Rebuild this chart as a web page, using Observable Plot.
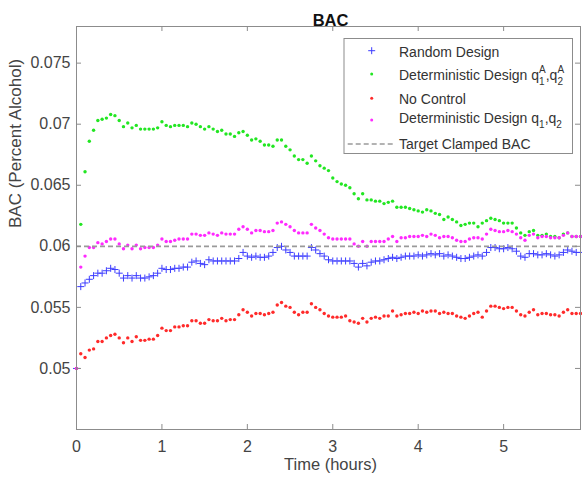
<!DOCTYPE html>
<html>
<head>
<meta charset="utf-8">
<script src="https://cdn.jsdelivr.net/npm/d3@7"></script>
<script src="https://cdn.jsdelivr.net/npm/@observablehq/plot@0.6"></script>
<style>
  body { margin: 0; background: white; }
  svg text { font-family: "Liberation Sans", Arial, sans-serif; }
</style>
</head>
<body>
<script>
// ---------------- data ----------------
const titleText = "BAC";
const xLabel = "Time (hours)";
const yLabel = "BAC (Percent Alcohol)";
const xTicks = [0, 1, 2, 3, 4, 5];
const xTickLabels = ["0", "1", "2", "3", "4", "5"];
const yTicks = [0.05, 0.055, 0.06, 0.065, 0.07, 0.075];
const yTickLabels = ["0.05", "0.055", "0.06", "0.065", "0.07", "0.075"];
const seriesNames = ["Random Design", "Deterministic Design q1A,q2A", "No Control", "Deterministic Design q1,q2", "Target Clamped BAC"];
const targetBAC = 0.06;

const time = [0,0.05,0.1,0.15,0.2,0.25,0.3,0.35,0.4,0.45,0.5,0.55,0.6,0.65,0.7,0.75,0.8,0.85,0.9,0.95,
1,1.05,1.1,1.15,1.2,1.25,1.3,1.35,1.4,1.45,1.5,1.55,1.6,1.65,1.7,1.75,1.8,1.85,1.9,1.95,
2,2.05,2.1,2.15,2.2,2.25,2.3,2.35,2.4,2.45,2.5,2.55,2.6,2.65,2.7,2.75,2.8,2.85,2.9,2.95,
3,3.05,3.1,3.15,3.2,3.25,3.3,3.35,3.4,3.45,3.5,3.55,3.6,3.65,3.7,3.75,3.8,3.85,3.9,3.95,
4,4.05,4.1,4.15,4.2,4.25,4.3,4.35,4.4,4.45,4.5,4.55,4.6,4.65,4.7,4.75,4.8,4.85,4.9,4.95,
5,5.05,5.1,5.15,5.2,5.25,5.3,5.35,5.4,5.45,5.5,5.55,5.6,5.65,5.7,5.75,5.8,5.85,5.9];

const randomDesign = [0.05,0.0567,0.0570,0.0573,0.0576,0.0578,0.0578,0.0580,0.0582,0.0581,
0.0578,0.0574,0.0576,0.0574,0.0576,0.0574,0.0574,0.0575,0.0576,0.0578,
0.0582,0.0581,0.0581,0.0582,0.0582,0.0583,0.0583,0.0587,0.0588,0.0586,
0.0585,0.0589,0.0588,0.0588,0.0588,0.0588,0.0588,0.0588,0.0590,0.0595,
0.0592,0.0591,0.0592,0.0591,0.0591,0.0592,0.0595,0.0599,0.0600,0.0597,
0.0595,0.0592,0.0592,0.0592,0.0592,0.0599,0.0597,0.0594,0.0592,0.0589,
0.0588,0.0588,0.0588,0.0588,0.0588,0.0586,0.0583,0.0586,0.0584,0.0587,
0.0588,0.0588,0.0589,0.0590,0.0591,0.0590,0.0591,0.0592,0.0592,0.0592,
0.0593,0.0592,0.0593,0.0594,0.0593,0.0594,0.0592,0.0593,0.0592,0.0591,
0.0590,0.0590,0.0591,0.0592,0.0593,0.0592,0.0595,0.0599,0.0599,0.0598,
0.0598,0.0599,0.0598,0.0596,0.0592,0.0591,0.0594,0.0594,0.0593,0.0593,
0.0594,0.0593,0.0592,0.0593,0.0595,0.0597,0.0596,0.0595,0.0595];

const deterministicA = [0.05,0.0618,0.0661,0.0686,0.0695,0.0703,0.0704,0.0705,0.0708,0.0707,
0.0703,0.0698,0.0701,0.0697,0.0699,0.0696,0.0696,0.0696,0.0696,0.0697,
0.0702,0.0699,0.0698,0.0699,0.0699,0.0699,0.0698,0.0701,0.0700,0.0698,
0.0696,0.0698,0.0696,0.0694,0.0695,0.0692,0.0692,0.0690,0.0693,0.0694,
0.0691,0.0687,0.0688,0.0686,0.0683,0.0683,0.0682,0.0687,0.0687,0.0682,
0.0679,0.0674,0.0671,0.0671,0.0668,0.0674,0.0670,0.0666,0.0664,0.0662,
0.0656,0.0653,0.0651,0.0650,0.0648,0.0643,0.0639,0.0643,0.0638,0.0638,
0.0637,0.0637,0.0635,0.0636,0.0637,0.0632,0.0632,0.0632,0.0631,0.0630,
0.0629,0.0628,0.0630,0.0629,0.0627,0.0626,0.0622,0.0624,0.0622,0.0620,
0.0617,0.0618,0.0619,0.0619,0.0616,0.0619,0.0621,0.0623,0.0622,0.0621,
0.0619,0.0619,0.0619,0.0615,0.0611,0.0609,0.0612,0.0613,0.0609,0.0609,
0.0610,0.0608,0.0608,0.0607,0.0610,0.0611,0.0608,0.0608,0.0608];

const noControl = [0.05,0.0512,0.0509,0.0515,0.0516,0.0522,0.0522,0.0525,0.0527,0.0528,
0.0525,0.0521,0.0525,0.0522,0.0526,0.0523,0.0523,0.0524,0.0524,0.0527,
0.0533,0.0531,0.0531,0.0534,0.0534,0.0535,0.0535,0.0539,0.0539,0.0537,
0.0537,0.0540,0.0539,0.0539,0.0541,0.0539,0.0540,0.0540,0.0544,0.0548,
0.0546,0.0543,0.0545,0.0545,0.0544,0.0545,0.0546,0.0552,0.0554,0.0551,
0.0550,0.0546,0.0544,0.0546,0.0546,0.0553,0.0550,0.0548,0.0545,0.0543,
0.0542,0.0542,0.0542,0.0543,0.0539,0.0538,0.0537,0.0541,0.0538,0.0541,
0.0542,0.0541,0.0543,0.0543,0.0547,0.0543,0.0544,0.0545,0.0545,0.0546,
0.0545,0.0547,0.0546,0.0547,0.0547,0.0545,0.0546,0.0545,0.0545,0.0543,
0.0542,0.0541,0.0543,0.0545,0.0546,0.0542,0.0547,0.0551,0.0551,0.0550,
0.0549,0.0550,0.0550,0.0547,0.0544,0.0543,0.0546,0.0548,0.0544,0.0545,
0.0545,0.0544,0.0544,0.0543,0.0546,0.0548,0.0545,0.0545,0.0545];

const deterministic = [0.05,0.0583,0.0592,0.0599,0.0599,0.0603,0.0602,0.0604,0.0606,0.0606,
0.0602,0.0598,0.0601,0.0598,0.0601,0.0598,0.0599,0.0599,0.0599,0.0601,
0.0606,0.0604,0.0604,0.0605,0.0606,0.0606,0.0606,0.0610,0.0610,0.0609,
0.0609,0.0611,0.0610,0.0609,0.0611,0.0610,0.0610,0.0610,0.0614,0.0616,
0.0614,0.0611,0.0613,0.0613,0.0612,0.0612,0.0613,0.0619,0.0620,0.0618,
0.0616,0.0613,0.0611,0.0611,0.0611,0.0618,0.0615,0.0613,0.0610,0.0607,
0.0606,0.0606,0.0606,0.0606,0.0606,0.0602,0.0600,0.0604,0.0600,0.0604,
0.0604,0.0604,0.0604,0.0606,0.0608,0.0604,0.0607,0.0607,0.0608,0.0608,
0.0608,0.0609,0.0608,0.0610,0.0609,0.0607,0.0608,0.0608,0.0607,0.0605,
0.0604,0.0604,0.0606,0.0607,0.0607,0.0606,0.0610,0.0614,0.0613,0.0612,
0.0612,0.0613,0.0612,0.0610,0.0607,0.0605,0.0609,0.0610,0.0607,0.0608,
0.0608,0.0607,0.0607,0.0607,0.0609,0.0611,0.0608,0.0608,0.0608];

const colors = { blue: "#3d3dff", green: "#22e622", red: "#ff2a2a", magenta: "#ff2aff", target: "#9a9a9a", axis: "#8c8c8c", text: "#444444" };

// ---------------- build ----------------
const toRows = arr => time.map((t, i) => ({ t, v: arr[i] }));
const W = 582, H = 479;
const mL = 76, mR = 2, mT = 26, mB = 50;
const pw = W - mL - mR, ph = H - mT - mB;

const chart = Plot.plot({
  width: W, height: H,
  marginLeft: mL, marginRight: mR, marginTop: mT, marginBottom: mB,
  style: { fontFamily: "Liberation Sans, Arial, sans-serif", background: "white", overflow: "visible" },
  x: { domain: [0, 5.9] },
  y: { domain: [0.045, 0.078] },
  marks: [
    Plot.dot(toRows(randomDesign), { x: "t", y: "v", symbol: "plus", r: 2.4, stroke: colors.blue, strokeWidth: 1 }),
    Plot.dot(toRows(deterministicA), { x: "t", y: "v", r: 1.7, fill: colors.green }),
    Plot.dot(toRows(noControl), { x: "t", y: "v", r: 1.7, fill: colors.red }),
    Plot.dot(toRows(deterministic), { x: "t", y: "v", r: 1.7, fill: colors.magenta }),
    Plot.ruleY([targetBAC], { stroke: colors.target, strokeWidth: 1.8, strokeDasharray: "5,3" }),
    Plot.frame({ stroke: colors.axis }),
    Plot.tickY(yTicks, { y: d => d, insetRight: pw - 5, stroke: colors.axis }),
    Plot.tickY(yTicks, { y: d => d, insetLeft: pw - 5, stroke: colors.axis }),
    Plot.tickX(xTicks, { x: d => d, insetTop: ph - 5, stroke: colors.axis }),
    Plot.tickX(xTicks, { x: d => d, insetBottom: ph - 5, stroke: colors.axis }),
    Plot.axisY(yTicks, { tickSize: 0, tickPadding: 6, label: null, fontSize: 16, fill: colors.text,
      tickFormat: d => yTickLabels[yTicks.indexOf(d)] }),
    Plot.axisX(xTicks, { tickSize: 0, tickPadding: 11, label: null, fontSize: 16, fill: colors.text,
      tickFormat: d => xTickLabels[xTicks.indexOf(d)] }),
    Plot.text([yLabel], { text: d => d, frameAnchor: "left", dx: -61, rotate: -90, fontSize: 17, fill: colors.text }),
    Plot.text([xLabel], { text: d => d, frameAnchor: "bottom", dx: 2, dy: 40, fontSize: 16.5, fill: colors.text }),
    Plot.text([titleText], { text: d => d, frameAnchor: "top", dx: 2, dy: -12, fontSize: 16.5, fontWeight: "bold", fill: "#111" })
  ]
});
document.body.append(chart);

// ---------------- legend (inside the axes, top right) ----------------
const svg = d3.select(chart);
const lg = svg.append("g")
  .attr("font-family", "Liberation Sans, Arial, sans-serif")
  .attr("text-anchor", "start")
  .attr("fill", "#333");
lg.append("rect").attr("x", 344).attr("y", 38.5).attr("width", 228.5).attr("height", 115)
  .attr("fill", "white").attr("stroke", colors.axis).attr("stroke-width", 1);

const mx = 371.7, tx = 399;
lg.append("path").attr("d", `M${mx-3.5},50.7h7M${mx},47.2v7`).attr("stroke", colors.blue).attr("stroke-width", 1).attr("fill", "none");
lg.append("circle").attr("cx", mx).attr("cy", 74).attr("r", 1.5).attr("fill", colors.green);
lg.append("circle").attr("cx", mx).attr("cy", 98.3).attr("r", 1.5).attr("fill", colors.red);
lg.append("circle").attr("cx", mx).attr("cy", 120).attr("r", 1.5).attr("fill", colors.magenta);
lg.append("line").attr("x1", 347.7).attr("x2", 395).attr("y1", 144).attr("y2", 144)
  .attr("stroke", colors.target).attr("stroke-width", 1.5).attr("stroke-dasharray", "5,3");

function run(x, y, str, size) {
  const t = lg.append("text").attr("x", x).attr("y", y).attr("font-size", size)
    .attr("text-anchor", "start").text(str);
  return t.node().getComputedTextLength();
}
run(tx, 56.7, "Random Design", 14);
{
  let x = tx, b = 80;
  x += run(x, b, "Deterministic Design q", 14);
  const w1 = Math.max(run(x, b - 7.5, "A", 10), run(x, b + 5, "1", 10));
  x += w1;
  x += run(x, b, ",q", 14);
  run(x, b - 7.5, "A", 10); run(x, b + 5, "2", 10);
}
run(tx, 104, "No Control", 14);
{
  let x = tx, b = 123.3;
  x += run(x, b, "Deterministic Design q", 14);
  x += run(x, b + 5, "1", 10);
  x += run(x, b, ",q", 14);
  run(x, b + 5, "2", 10);
}
run(tx, 149, "Target Clamped BAC", 14);
</script>
</body>
</html>
